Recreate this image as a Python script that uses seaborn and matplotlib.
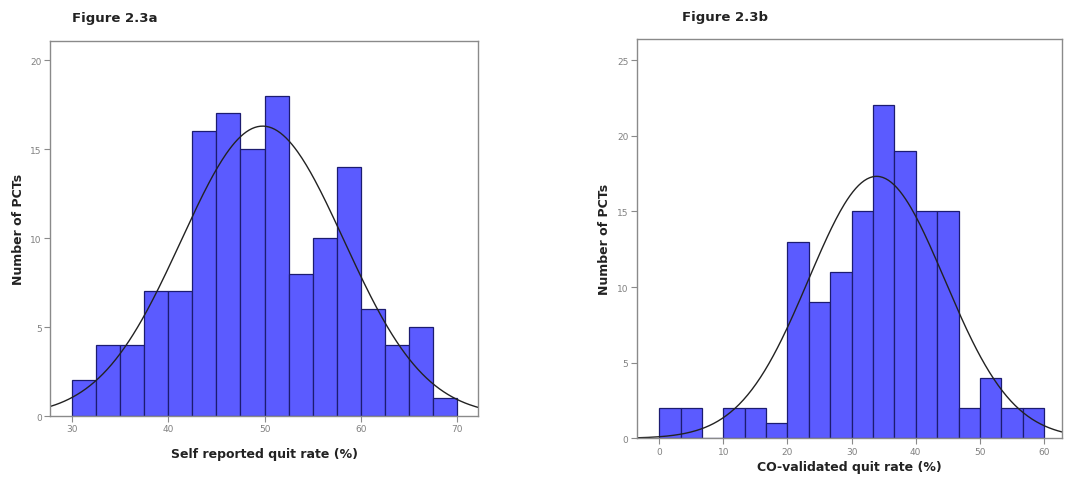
import numpy as np
import pandas as pd
import matplotlib
matplotlib.use('Agg')
import matplotlib.pyplot as plt
import seaborn as sns

# ==============================================
# Data (counts per bin)
# ==============================================
# Figure 2.3a: self reported quit rate, bins of 2.5 from 30 to 70
self_edges = [30, 32.5, 35, 37.5, 40, 42.5, 45, 47.5, 50, 52.5, 55, 57.5, 60, 62.5, 65, 67.5, 70]
self_counts = [2, 4, 4, 7, 7, 16, 17, 15, 18, 8, 10, 14, 6, 4, 5, 1]
self_mean, self_sd = 49.8, 8.45

# Figure 2.3b: CO-validated quit rate, 18 bins from 0 to 60
co_edges = list(np.linspace(0, 60, 19))
co_counts = [2, 2, 0, 2, 2, 1, 13, 9, 11, 15, 22, 19, 15, 15, 2, 4, 2, 2]
co_mean, co_sd = 33.9, 10.6

BAR = '#5b5bff'
EDGE = '#1c1c70'
GREY = '#8a8a8a'

sns.set_style('white')
plt.rcParams['font.family'] = ['DejaVu Sans']

fig = plt.figure(figsize=(10.76, 4.89), dpi=100)
ax1 = fig.add_axes([0.0465, 0.1472, 0.3978, 0.7669])
ax2 = fig.add_axes([0.5917, 0.1016, 0.3953, 0.8166])


def panel(ax, edges, counts, mean, sd, xlim, ylim, yticks, xticks, xlabel, xpad, ypad):
    mids = [(a + b) / 2 for a, b in zip(edges[:-1], edges[1:])]
    df = pd.DataFrame({'x': mids, 'n': counts})
    sns.histplot(data=df, x='x', weights='n', bins=edges, ax=ax,
                 color=BAR, edgecolor=EDGE, linewidth=0.9, alpha=1)
    # fitted normal curve scaled to counts
    width = edges[1] - edges[0]
    n = sum(counts)
    xs = np.linspace(xlim[0], xlim[1], 300)
    ys = n * width / (sd * np.sqrt(2 * np.pi)) * np.exp(-0.5 * ((xs - mean) / sd) ** 2)
    sns.lineplot(x=xs, y=ys, ax=ax, color='#222222', linewidth=1.0)
    ax.set_xlim(*xlim)
    ax.set_ylim(*ylim)
    ax.set_yticks(yticks)
    ax.set_xticks(xticks)
    ax.tick_params(axis='both', direction='out', length=4, width=0.8,
                   colors=GREY, labelsize=6.5, labelcolor='#808080', pad=2)
    ax.tick_params(axis='y', left=True)
    ax.tick_params(axis='x', bottom=True)
    for s in ax.spines.values():
        s.set_color(GREY)
        s.set_linewidth(1.0)
    ax.set_xlabel(xlabel, fontsize=9, fontweight='bold', color='#222222', labelpad=xpad)
    ax.set_ylabel('Number of PCTs', fontsize=9, fontweight='bold', color='#222222', labelpad=ypad)


panel(ax1, self_edges, self_counts, self_mean, self_sd, (27.7, 72.2), (0, 21.07),
      [0, 5, 10, 15, 20], [30, 40, 50, 60, 70], 'Self reported quit rate (%)', 10, 4)
panel(ax2, co_edges, co_counts, co_mean, co_sd, (-3.5, 62.8), (0, 26.39),
      [0, 5, 10, 15, 20, 25], [0, 10, 20, 30, 40, 50, 60], 'CO-validated quit rate (%)', 3, 4)

fig.text(0.067, 0.963, 'Figure 2.3a', fontsize=9.5, fontweight='bold', color='#222222', va='center')
fig.text(0.634, 0.965, 'Figure 2.3b', fontsize=9.5, fontweight='bold', color='#222222', va='center')

fig.savefig('out.png', dpi=100, facecolor='white')
